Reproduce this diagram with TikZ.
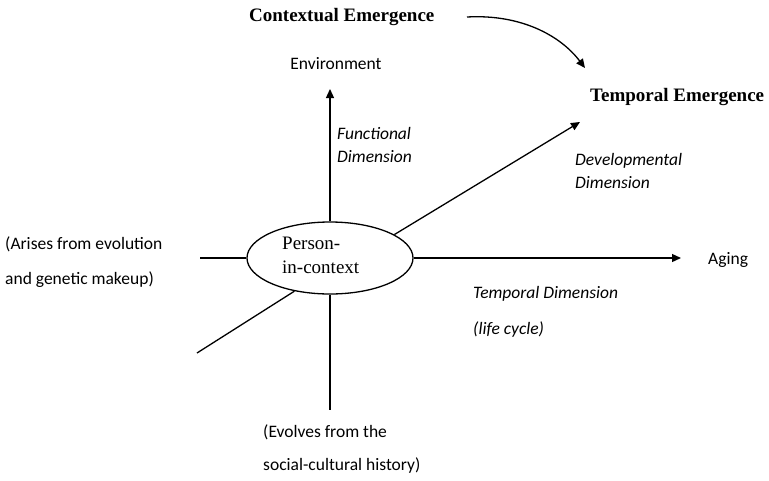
\documentclass[tikz,border=0pt]{standalone}
\usepackage{fontspec}
\setmainfont{Liberation Serif}
\newfontfamily\calfont{Carlito}
\usetikzlibrary{shapes.geometric,arrows.meta}
\begin{document}
\begin{tikzpicture}[x=1pt,y=-1pt,
  lbl/.style={font=\calfont\fontsize{17.5}{23}\selectfont, inner sep=0pt},
  ilbl/.style={font=\calfont\itshape\fontsize{17.5}{23}\selectfont, inner sep=0pt, align=left},
  ttl/.style={font=\bfseries\fontsize{19}{22}\selectfont, inner sep=0pt},
  ln/.style={line width=1.3pt},
  arr/.style={ln, -{Triangle[length=9pt,width=8pt]}}]
\useasboundingbox (0,0) rectangle (769,480);
\node[draw, ellipse, line width=1.3pt, minimum width=166pt, minimum height=72pt, inner sep=0pt] (p) at (330,258) {};
\node[align=left, inner sep=0pt, anchor=north west, font=\fontsize{19}{24}\selectfont] (pt) at (282,237) {Person-\\in-context};
\node[ttl, anchor=west] (ce) at (249,17) {Contextual Emergence};
\node[ttl, anchor=west] (te) at (590,97) {Temporal Emergence};
\node[lbl] (env) at (336,64) {Environment};
\node[lbl, anchor=west] (age) at (708,260) {Aging};
\node[ilbl, anchor=north west] (fd) at (337,127) {Functional\\Dimension};
\node[ilbl, anchor=north west] (dd) at (575,153) {Developmental\\Dimension};
\node[ilbl, anchor=west] (td) at (473,294) {Temporal Dimension};
\node[ilbl, anchor=west] (lc) at (473,330) {(life cycle)};
\node[lbl, anchor=west] (a1) at (5,244) {(Arises from evolution};
\node[lbl, anchor=west] (a2) at (5,280) {and genetic makeup)};
\node[lbl, anchor=west] (e1) at (263,432) {(Evolves from the};
\node[lbl, anchor=west] (e2) at (263,466) {social-cultural history)};
\coordinate (upEnd) at (330,89);
\coordinate (leftEnd) at (200,258);
\coordinate (rightEnd) at (681,258);
\coordinate (diagEnd) at (580,122);
\coordinate (llEnd) at (197,353);
\coordinate (downEnd) at (330,410);
\coordinate (cs) at (467,17);
\coordinate (ct) at (585,68);
\draw[arr] (p.north) -- (upEnd);
\draw[ln] (p.west) -- (leftEnd);
\draw[arr] (p.east) -- (rightEnd);
\draw[arr] (p.20) -- (diagEnd);
\draw[ln] (p.-137) -- (llEnd);
\draw[ln] (p.south) -- (downEnd);
\draw[arr] (cs) .. controls (520,14) and (560,35) .. (ct);
\end{tikzpicture}
\end{document}
